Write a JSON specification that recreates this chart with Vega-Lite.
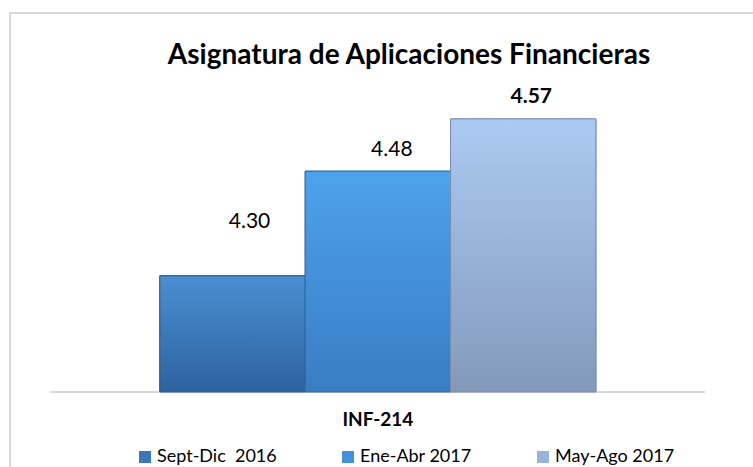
{
  "$schema": "https://vega.github.io/schema/vega-lite/v6.json",
  "width": 798,
  "height": 470,
  "autosize": {"type": "none"},
  "padding": {"left": 10, "top": 13, "right": 0, "bottom": 0},
  "background": "white",
  "config": {
    "view": {"stroke": "#d9d9d9", "strokeWidth": 2},
    "font": "Lato"
  },
  "title": {
    "text": "Asignatura de Aplicaciones Financieras",
    "font": "Lato",
    "fontSize": 28,
    "fontWeight": "bold",
    "color": "#000000",
    "anchor": "middle",
    "frame": "group",
    "offset": -57
  },
  "data": {
    "values": [
      {"curso": "INF-214", "periodo": "Sept-Dic\u00a0 2016", "valor": 4.30},
      {"curso": "INF-214", "periodo": "Ene-Abr 2017", "valor": 4.48},
      {"curso": "INF-214", "periodo": "May-Ago 2017", "valor": 4.57}
    ]
  },
  "layer": [
    {
      "mark": {"type": "bar", "strokeWidth": 1},
      "encoding": {
        "x": {
          "field": "curso",
          "type": "nominal",
          "scale": {"paddingInner": 0, "paddingOuter": 0.415, "align": 0.414},
          "axis": {
            "title": null,
            "orient": "bottom",
            "offset": -91,
            "domain": false,
            "ticks": false,
            "labelAngle": 0,
            "labelFont": "Lato",
            "labelFontSize": 19,
            "labelFontWeight": "bold",
            "labelColor": "#000000",
            "labelPadding": 18
          }
        },
        "xOffset": {
          "field": "periodo",
          "type": "nominal",
          "sort": null,
          "scale": {"paddingInner": 0, "paddingOuter": 0}
        },
        "y": {
          "field": "valor",
          "type": "quantitative",
          "scale": {"domain": [3.9434, 4.7523], "zero": false, "nice": false},
          "axis": null
        },
        "y2": {"datum": 4.1},
        "color": {
          "field": "periodo",
          "type": "nominal",
          "sort": null,
          "scale": {"range": ["#3a78b8", "#4590dc", "#98b4dc"]},
          "legend": {
            "title": null,
            "orient": "none",
            "direction": "horizontal",
            "legendX": 126,
            "legendY": 435,
            "symbolType": "square",
            "symbolSize": 144,
            "symbolStrokeWidth": 0,
            "labelFont": "Lato",
            "labelFontSize": 18,
            "labelColor": "#000000",
            "labelOffset": 3,
            "columnPadding": 62,
            "labelLimit": 300
          }
        },
        "stroke": {
          "field": "periodo",
          "type": "nominal",
          "sort": null,
          "scale": {"range": ["#2a5b90", "#2f6aa8", "#7a8db0"]},
          "legend": null
        }
      }
    },
    {
      "mark": {"type": "tick", "color": "#d9d9d9", "thickness": 2, "size": 654, "opacity": 1},
      "encoding": {
        "x": {"field": "curso", "type": "nominal"},
        "y": {"datum": 4.1, "scale": {"domain": [3.9434, 4.7523], "zero": false, "nice": false}}
      }
    },
    {
      "transform": [{"filter": "datum.valor < 4.4"}],
      "mark": {"type": "bar", "stroke": "#2a5b90", "strokeWidth": 1, "color": {"gradient": "linear", "x1": 0, "y1": 0, "x2": 0, "y2": 1, "stops": [{"offset": 0, "color": "#4a8fd2"}, {"offset": 1, "color": "#2e629e"}]}},
      "encoding": {
        "x": {"field": "curso", "type": "nominal"},
        "xOffset": {"field": "periodo", "type": "nominal", "sort": null},
        "y": {"field": "valor", "type": "quantitative"},
        "y2": {"datum": 4.1}
      }
    },
    {
      "transform": [{"filter": "datum.valor > 4.4 && datum.valor < 4.5"}],
      "mark": {"type": "bar", "stroke": "#2f6aa8", "strokeWidth": 1, "color": {"gradient": "linear", "x1": 0, "y1": 0, "x2": 0, "y2": 1, "stops": [{"offset": 0, "color": "#4ea2ec"}, {"offset": 1, "color": "#397cc2"}]}},
      "encoding": {
        "x": {"field": "curso", "type": "nominal"},
        "xOffset": {"field": "periodo", "type": "nominal", "sort": null},
        "y": {"field": "valor", "type": "quantitative"},
        "y2": {"datum": 4.1}
      }
    },
    {
      "transform": [{"filter": "datum.valor > 4.5"}],
      "mark": {"type": "bar", "stroke": "#7a8db0", "strokeWidth": 1, "color": {"gradient": "linear", "x1": 0, "y1": 0, "x2": 0, "y2": 1, "stops": [{"offset": 0, "color": "#abcaf3"}, {"offset": 1, "color": "#8399ba"}]}},
      "encoding": {
        "x": {"field": "curso", "type": "nominal"},
        "xOffset": {"field": "periodo", "type": "nominal", "sort": null},
        "y": {"field": "valor", "type": "quantitative"},
        "y2": {"datum": 4.1}
      }
    },
    {
      "transform": [{"filter": "datum.valor < 4.4"}],
      "mark": {"type": "text", "fontSize": 21, "font": "Lato", "color": "#000000", "baseline": "middle", "dy": -54, "dx": 17},
      "encoding": {
        "x": {"field": "curso", "type": "nominal"},
        "xOffset": {"field": "periodo", "type": "nominal", "sort": null},
        "y": {"field": "valor", "type": "quantitative"},
        "text": {"field": "valor", "type": "quantitative", "format": ".2f"}
      }
    },
    {
      "transform": [{"filter": "datum.valor > 4.4 && datum.valor < 4.5"}],
      "mark": {"type": "text", "fontSize": 21, "font": "Lato", "color": "#000000", "baseline": "middle", "dy": -21, "dx": 14},
      "encoding": {
        "x": {"field": "curso", "type": "nominal"},
        "xOffset": {"field": "periodo", "type": "nominal", "sort": null},
        "y": {"field": "valor", "type": "quantitative"},
        "text": {"field": "valor", "type": "quantitative", "format": ".2f"}
      }
    },
    {
      "transform": [{"filter": "datum.valor > 4.5"}],
      "mark": {"type": "text", "fontSize": 21, "font": "Lato", "fontWeight": "bold", "color": "#000000", "baseline": "middle", "dy": -22, "dx": 8},
      "encoding": {
        "x": {"field": "curso", "type": "nominal"},
        "xOffset": {"field": "periodo", "type": "nominal", "sort": null},
        "y": {"field": "valor", "type": "quantitative"},
        "text": {"field": "valor", "type": "quantitative", "format": ".2f"}
      }
    }
  ]
}
